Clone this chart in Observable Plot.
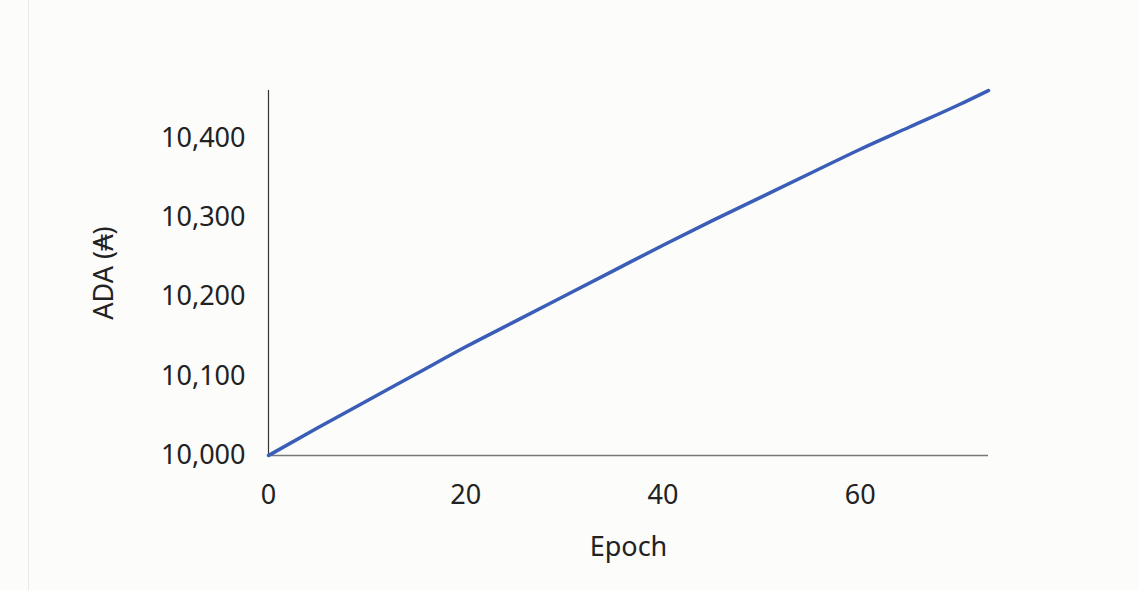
<!DOCTYPE html>
<html>
<head>
<meta charset="utf-8">
<script src="https://cdn.jsdelivr.net/npm/d3@7"></script>
<script src="https://cdn.jsdelivr.net/npm/@observablehq/plot@0.6"></script>
<style>
  html, body { margin: 0; padding: 0; background: #fcfcfb; }
  body { width: 1139px; height: 590px; overflow: hidden; position: relative; }
  #border { position: absolute; left: 28px; top: 0; width: 1px; height: 590px; background: #e8e8e8; }
  #chart { position: absolute; left: 0; top: 0; }
</style>
</head>
<body>
<div id="border"></div>
<div id="chart"></div>
<script>
const epochs = [0, 5, 10, 15, 20, 25, 30, 35, 40, 45, 50, 55, 60, 65, 70, 73];
const ada = [10000, 10035, 10069, 10103, 10137, 10169, 10201, 10233, 10265, 10296, 10326, 10356, 10386, 10414, 10442, 10460];
const xTicks = [0, 20, 40, 60];
const yTicks = [10000, 10100, 10200, 10300, 10400];

const data = epochs.map((e, i) => ({epoch: e, value: ada[i]}));

const chart = Plot.plot({
  width: 1139,
  height: 590,
  marginLeft: 268,
  marginRight: 151,
  marginTop: 90,
  marginBottom: 135,
  style: {background: "transparent", fontFamily: "'Noto Sans', sans-serif", color: "#222"},
  x: {domain: [0, 73]},
  y: {domain: [10000, 10460]},
  marks: [
    Plot.axisX({ticks: xTicks, tickSize: 0, tickPadding: 29, fontSize: 27, label: "Epoch", labelAnchor: "center", labelArrow: "none", labelOffset: 100}),
    Plot.axisY({ticks: yTicks, tickSize: 0, tickPadding: 23, fontSize: 27, tickFormat: d3.format(","), label: "ADA (₳)", labelAnchor: "center", labelArrow: "none", labelOffset: 175}),
    Plot.ruleY([10000], {stroke: "#777", strokeWidth: 1.5}),
    Plot.ruleX([0], {stroke: "#333", strokeWidth: 1.2}),
    Plot.line(data, {x: "epoch", y: "value", stroke: "#3a5eb7", strokeWidth: 3.5, curve: "monotone-x"})
  ]
});
document.getElementById("chart").appendChild(chart);
</script>
</body>
</html>
